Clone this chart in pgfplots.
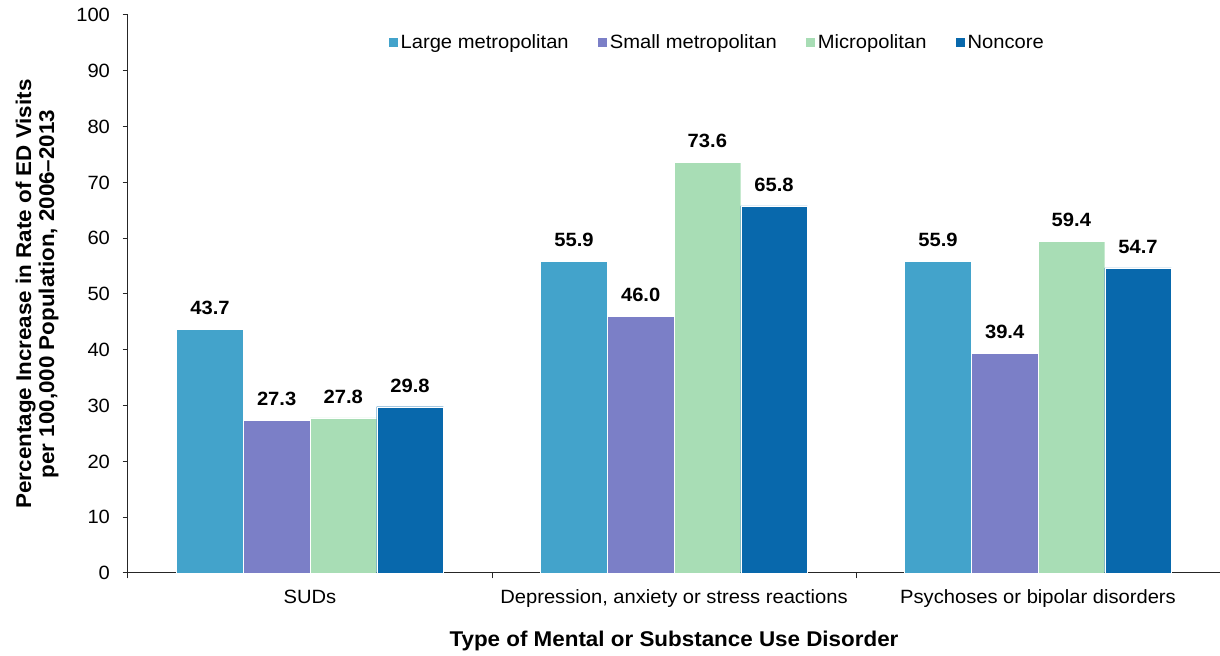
\documentclass[border=0pt]{standalone}
\usepackage{fontspec}
\setmainfont[FakeStretch=1.05]{Liberation Sans}
\usepackage{pgfplots}
\pgfplotsset{compat=1.18}
\definecolor{cLarge}{HTML}{43A3CB}
\definecolor{cSmall}{HTML}{7B7FC7}
\definecolor{cMicro}{HTML}{A8DDB5}
\definecolor{cNon}{HTML}{0868AC}
\newcommand{\tfont}{\fontsize{14.4}{17}\selectfont}
\newcommand{\lfont}{\fontsize{16}{17.25}\selectfont\bfseries}
\begin{document}
\begin{tikzpicture}
\begin{axis}[
  at={(96pt,62.25pt)}, anchor=south west,
  scale only axis, width=819pt, height=418.5pt,
  ymin=0, ymax=100, ytick={0,10,...,100},
  xmin=-0.5, xmax=2.5,
  xtick={-0.5,0.5,1.5,2.5}, xticklabels={},
  extra x ticks={0,1,2},
  extra x tick labels={SUDs,{Depression, anxiety or stress reactions},{Psychoses or bipolar disorders}},
  extra x tick style={major tick length=0pt, tick label style={yshift=-9pt}},
  axis lines=left, axis line style={-, line width=0.75pt, black!85},
  tick align=outside, major tick length=4pt,
  tick style={black!85, line width=0.75pt},
  tick label style={font=\tfont},
  yticklabel style={xshift=-6pt},
  /pgf/number format/assume math mode=true,
  ybar, bar width=0.1832,
  every axis plot/.append style={draw=white, line width=0.25pt},
  nodes near coords={\pgfmathprintnumber[fixed,fixed zerofill,precision=1]{\pgfplotspointmeta}},
  nodes near coords style={font=\tfont\bfseries, anchor=base, inner sep=0pt, yshift=11pt, text=black},
  ylabel={Percentage Increase in Rate of ED Visits\\per 100,000 Population, 2006--2013},
  ylabel style={at={(axis description cs:-0.0833,0.5)}, anchor=center, align=center, font=\lfont},
  xlabel={Type of Mental or Substance Use Disorder},
  xlabel style={at={(axis description cs:0.5,0)}, anchor=base, yshift=-55.5pt, font=\lfont},
  legend style={at={(axis description cs:0.54,0.95)}, anchor=center, draw=none, fill=none,
    legend columns=4, font=\tfont,
    /tikz/every even column/.append style={column sep=20pt}},
  legend image code/.code={\fill[#1,draw=none] (0pt,-3.4pt) rectangle (6.8pt,3.4pt);},
]
\addplot[fill=cLarge, bar shift=-0.2748] coordinates {(0,43.7) (1,55.9) (2,55.9)};
\addplot[fill=cSmall, bar shift=-0.0916] coordinates {(0,27.3) (1,46.0) (2,39.4)};
\addplot[fill=cMicro, bar shift=0.0916] coordinates {(0,27.8) (1,73.6) (2,59.4)};
\addplot[fill=cNon, bar shift=0.2748] coordinates {(0,29.8) (1,65.8) (2,54.7)};
\legend{Large metropolitan, Small metropolitan, Micropolitan, Noncore}
\end{axis}
\pgfresetboundingbox
\useasboundingbox (0,0) rectangle (915pt,492pt);
\end{tikzpicture}
\end{document}
